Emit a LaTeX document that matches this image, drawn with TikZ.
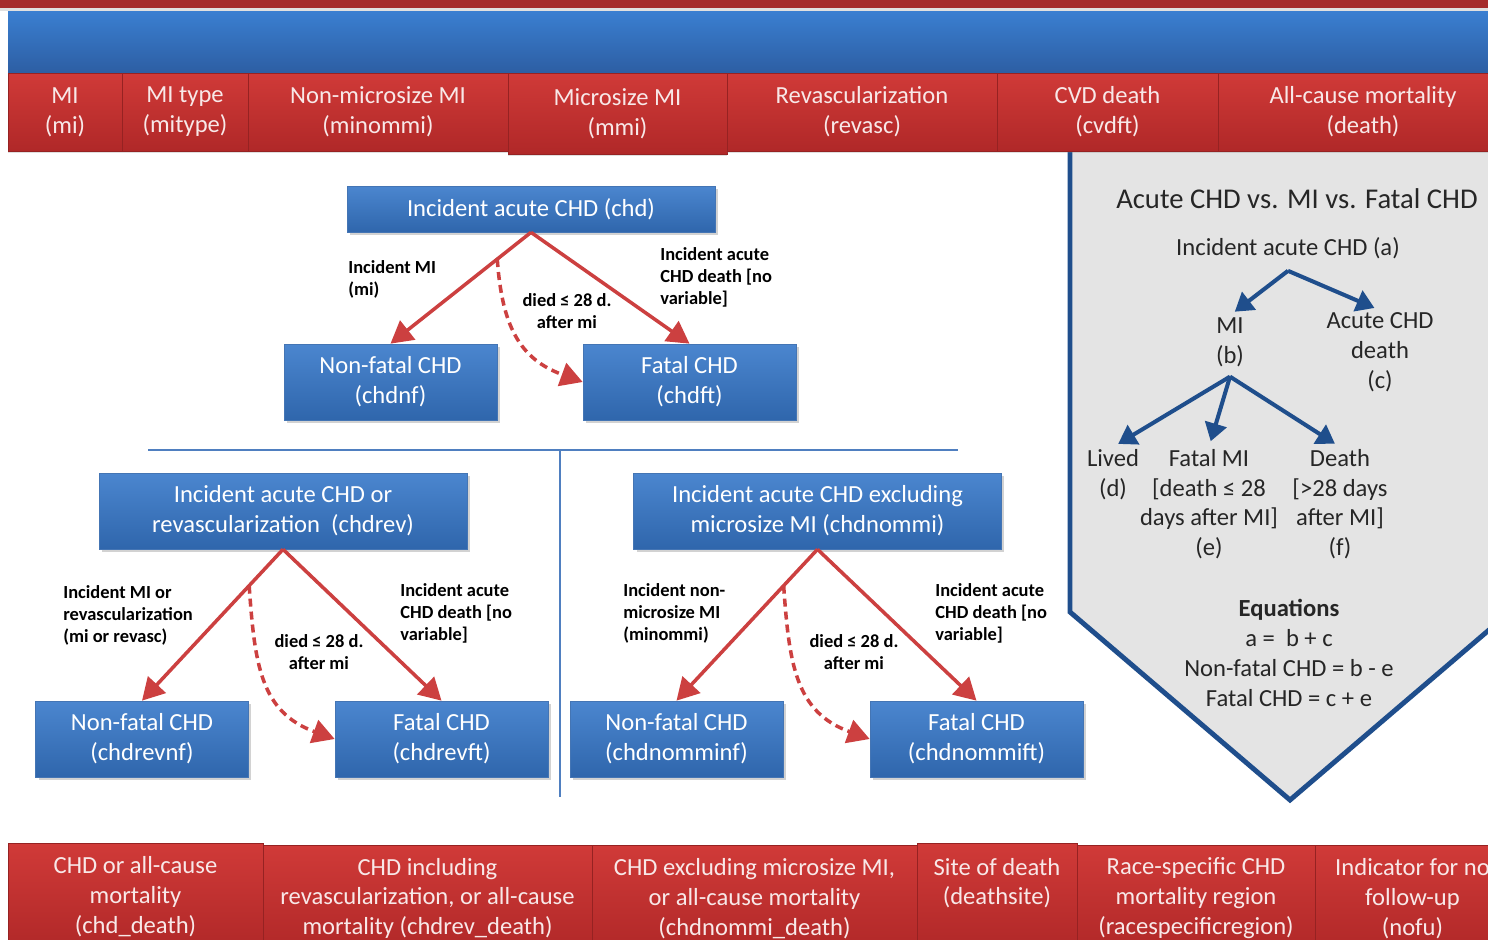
\documentclass[tikz,border=0pt]{standalone}
\usepackage{fontspec}
\setmainfont{Carlito}
\usetikzlibrary{arrows.meta,shadows}

\definecolor{barred}{HTML}{D03A38}
\definecolor{barreddark}{HTML}{B02828}
\definecolor{stripred}{HTML}{A52B2B}
\definecolor{bandtop}{HTML}{3A7FD1}
\definecolor{bandbot}{HTML}{2D5EA3}
\definecolor{boxtop}{HTML}{4B86CF}
\definecolor{boxbot}{HTML}{2F66AC}
\definecolor{arrred}{HTML}{CC4040}
\definecolor{navy}{HTML}{1F4E8C}
\definecolor{panelgray}{HTML}{E4E4E4}
\definecolor{sepblue}{HTML}{4F7FC0}
\definecolor{bartext}{HTML}{F8E8E8}

\begin{document}
\begin{tikzpicture}[x=0.02cm,y=-0.02cm,
	bar/.style={rectangle,inner sep=0pt,top color=barred,bottom color=barreddark,draw=barreddark!85!black,line width=0.4pt,
		text=bartext,font=\fontsize{14}{17}\selectfont,align=center,minimum height=1.52cm,
		drop shadow={shadow xshift=0cm,shadow yshift=-0.05cm,opacity=0.25}},
	box/.style={rectangle,inner sep=0pt,top color=boxtop,bottom color=boxbot,draw=boxbot!90!white,text=white,
		font=\fontsize{14}{17}\selectfont,align=center,minimum height=1.52cm,minimum width=4.26cm,
		drop shadow={shadow xshift=0.06cm,shadow yshift=-0.06cm,opacity=0.35}},
	lbl/.style={font=\fontsize{10.5}{12.5}\selectfont\bfseries,align=left,inner sep=0pt},
	ptxt/.style={font=\fontsize{14}{17}\selectfont,text=black!85,align=center,inner sep=1pt},
	redarr/.style={draw=arrred,line width=2pt,-{Triangle[length=0.44cm,width=0.48cm]}},
	reddash/.style={redarr,dash pattern=on 0.16cm off 0.1cm},
	bluearr/.style={draw=navy,line width=2.3pt,-{Triangle[length=0.36cm,width=0.44cm]},shorten >=0.12cm}]
	\useasboundingbox (0,0) rectangle (1488,940);
	\clip (0,0) rectangle (1488,940);
	\fill[white] (0,0) rectangle (1488,940);

	% header band
	\fill[stripred] (0,0) rectangle (1488,8);
	\fill[black!12] (0,8) rectangle (1488,11);
	\shade[top color=bandtop,bottom color=bandbot] (8,11) rectangle (1488,73);

	% side panel
	\fill[panelgray] (1070,140) -- (1070,612) -- (1290,800) -- (1510,612) -- (1510,140) -- cycle;
	\draw[navy,line width=2.8pt] (1070,140) -- (1070,612) -- (1290,800) -- (1510,612);

	% variables on top
	\node[bar,minimum width=2.28cm,minimum height=1.56cm] (mi) at (65,112) {MI\\(mi)};
	\node[bar,minimum width=2.52cm,minimum height=1.56cm] (mitype) at (185,112) {MI type\\(mitype)};
	\node[bar,minimum width=5.2cm,minimum height=1.56cm] (minommi) at (378,112) {Non-microsize MI\\(minommi)};
	\node[bar,minimum width=4.38cm,minimum height=1.62cm] (mmi) at (617.5,113.5) {Microsize MI\\(mmi)};
	\node[bar,minimum width=5.4cm,minimum height=1.56cm] (revasc) at (862,112) {Revascularization\\(revasc)};
	\node[bar,minimum width=4.42cm,minimum height=1.56cm] (cvdft) at (1107.5,112) {CVD death\\(cvdft)};
	\node[bar,minimum width=5.8cm,minimum height=1.56cm] (death) at (1363,112) {All-cause mortality\\(death)};

	% acute CHD tree
	\node[box,minimum width=7.36cm,minimum height=0.92cm] (chd) at (531,209) {Incident acute CHD (chd)};
	\node[box] (chdnf) at (390.5,382) {Non-fatal CHD\\(chdnf)};
	\node[box] (chdft) at (689.5,382) {Fatal CHD\\(chdft)};
	\draw[redarr] (chd.south) -- coordinate[pos=0.24] (chdfork) (chdnf.north);
	\draw[redarr] (chd.south) -- (chdft.north);
	\draw[reddash] (chdfork) to[out=-86,in=160,looseness=1.15] (chdft.west);
	\node[lbl,anchor=west] (lblmi) at (348,279) {Incident MI\\(mi)};
	\node[lbl,align=center] (lbldied) at (567,311) {died ≤ 28 d.\\after mi};
	\node[lbl,anchor=west] (lblacute) at (660,277) {Incident acute\\CHD death [no\\variable]};

	\draw[sepblue,line width=1.6pt] (148,450) -- (958,450);
	\draw[sepblue,line width=1.6pt] (560,450) -- (560,797);

	% with revascularization
	\node[box,minimum width=7.36cm] (chdrev) at (283,511) {Incident acute CHD or\\revascularization\ \ (chdrev)};
	\node[box] (chdrevnf) at (142,739) {Non-fatal CHD\\(chdrevnf)};
	\node[box] (chdrevft) at (441.5,739) {Fatal CHD\\(chdrevft)};
	\draw[redarr] (chdrev.south) -- coordinate[pos=0.24] (chdrevfork) (chdrevnf.north);
	\draw[redarr] (chdrev.south) -- (chdrevft.north);
	\draw[reddash] (chdrevfork) to[out=-86,in=160,looseness=1.15] (chdrevft.west);
	\node[lbl,anchor=west] (lblmirev) at (63,615) {Incident MI or\\revascularization\\(mi or revasc)};
	\node[lbl,align=center] (lbldiedrev) at (319,652) {died ≤ 28 d.\\after mi};
	\node[lbl,anchor=west] (lblacuterev) at (400,613) {Incident acute\\CHD death [no\\variable]};

	% without microsize MI
	\node[box,minimum width=7.36cm] (chdnommi) at (817.5,511) {Incident acute CHD excluding\\microsize MI (chdnommi)};
	\node[box] (chdnomminf) at (676.5,739) {Non-fatal CHD\\(chdnomminf)};
	\node[box] (chdnommift) at (976.5,739) {Fatal CHD\\(chdnommift)};
	\draw[redarr] (chdnommi.south) -- coordinate[pos=0.24] (chdnommifork) (chdnomminf.north);
	\draw[redarr] (chdnommi.south) -- (chdnommift.north);
	\draw[reddash] (chdnommifork) to[out=-86,in=160,looseness=1.15] (chdnommift.west);
	\node[lbl,anchor=west] (lblminommi) at (623,613) {Incident non-\\microsize MI\\(minommi)};
	\node[lbl,align=center] (lbldiednommi) at (854,652) {died ≤ 28 d.\\after mi};
	\node[lbl,anchor=west] (lblacutenommi) at (935,613) {Incident acute\\CHD death [no\\variable]};

	% panel contents
	\node[ptxt,font=\fontsize{16.3}{19}\selectfont] (ptitle) at (1297,199) {Acute CHD vs. MI vs. Fatal CHD};
	\node[ptxt] (pa) at (1288,248) {Incident acute CHD (a)};
	\node[ptxt] (pb) at (1230,342) {MI\\(b)};
	\node[ptxt] (pc) at (1380,352) {Acute CHD\\death\\(c)};
	\node[ptxt,anchor=north] (pd) at (1113,447) {Lived\\(d)};
	\node[ptxt,anchor=north] (pe) at (1209,447) {Fatal MI\\{[}death ≤ 28\\days after MI]\\(e)};
	\node[ptxt,anchor=north] (pf) at (1340,447) {Death\\{[}>28 days\\after MI]\\(f)};
	\coordinate (pafork) at ([yshift=-0.2cm]pa.south);
	\coordinate (pbfork) at ([yshift=-0.16cm]pb.south);
	\draw[bluearr] (pafork) -- (pb.north);
	\draw[bluearr] (pafork) -- (pc.north);
	\draw[bluearr] (pbfork) -- (pd.north);
	\draw[bluearr] (pbfork) -- (pe.north);
	\draw[bluearr] (pbfork) -- (pf.north);
	\node[ptxt,anchor=north] (peq) at (1289,597) {\textbf{Equations}\\a =\ \ b + c\\Non-fatal CHD = b - e\\Fatal CHD = c + e};

	% variables at the bottom
	\node[bar,anchor=north,minimum width=5.1cm,minimum height=2.12cm] (chddeath) at (135.5,843) {CHD or all-cause\\mortality\\(chd\_death)};
	\node[bar,anchor=north,minimum width=6.58cm,minimum height=2.12cm] (chdrevdeath) at (427.5,845) {CHD including\\revascularization, or all-cause\\mortality (chdrev\_death)};
	\node[bar,anchor=north,minimum width=6.5cm,minimum height=2.12cm] (chdnommideath) at (754.5,845) {CHD excluding microsize MI,\\or all-cause mortality\\(chdnommi\_death)};
	\node[bar,anchor=north,minimum width=3.2cm,minimum height=2.12cm] (deathsite) at (997,843) {Site of death\\(deathsite)\\\mbox{}};
	\node[bar,anchor=north,minimum width=4.76cm,minimum height=2.12cm] (region) at (1196,845) {Race-specific CHD\\mortality region\\(racespecificregion)};
	\node[bar,anchor=north,minimum width=3.9cm,minimum height=2.12cm] (nofu) at (1412.5,845) {Indicator for no\\follow-up\\(nofu)};
\end{tikzpicture}
\end{document}
